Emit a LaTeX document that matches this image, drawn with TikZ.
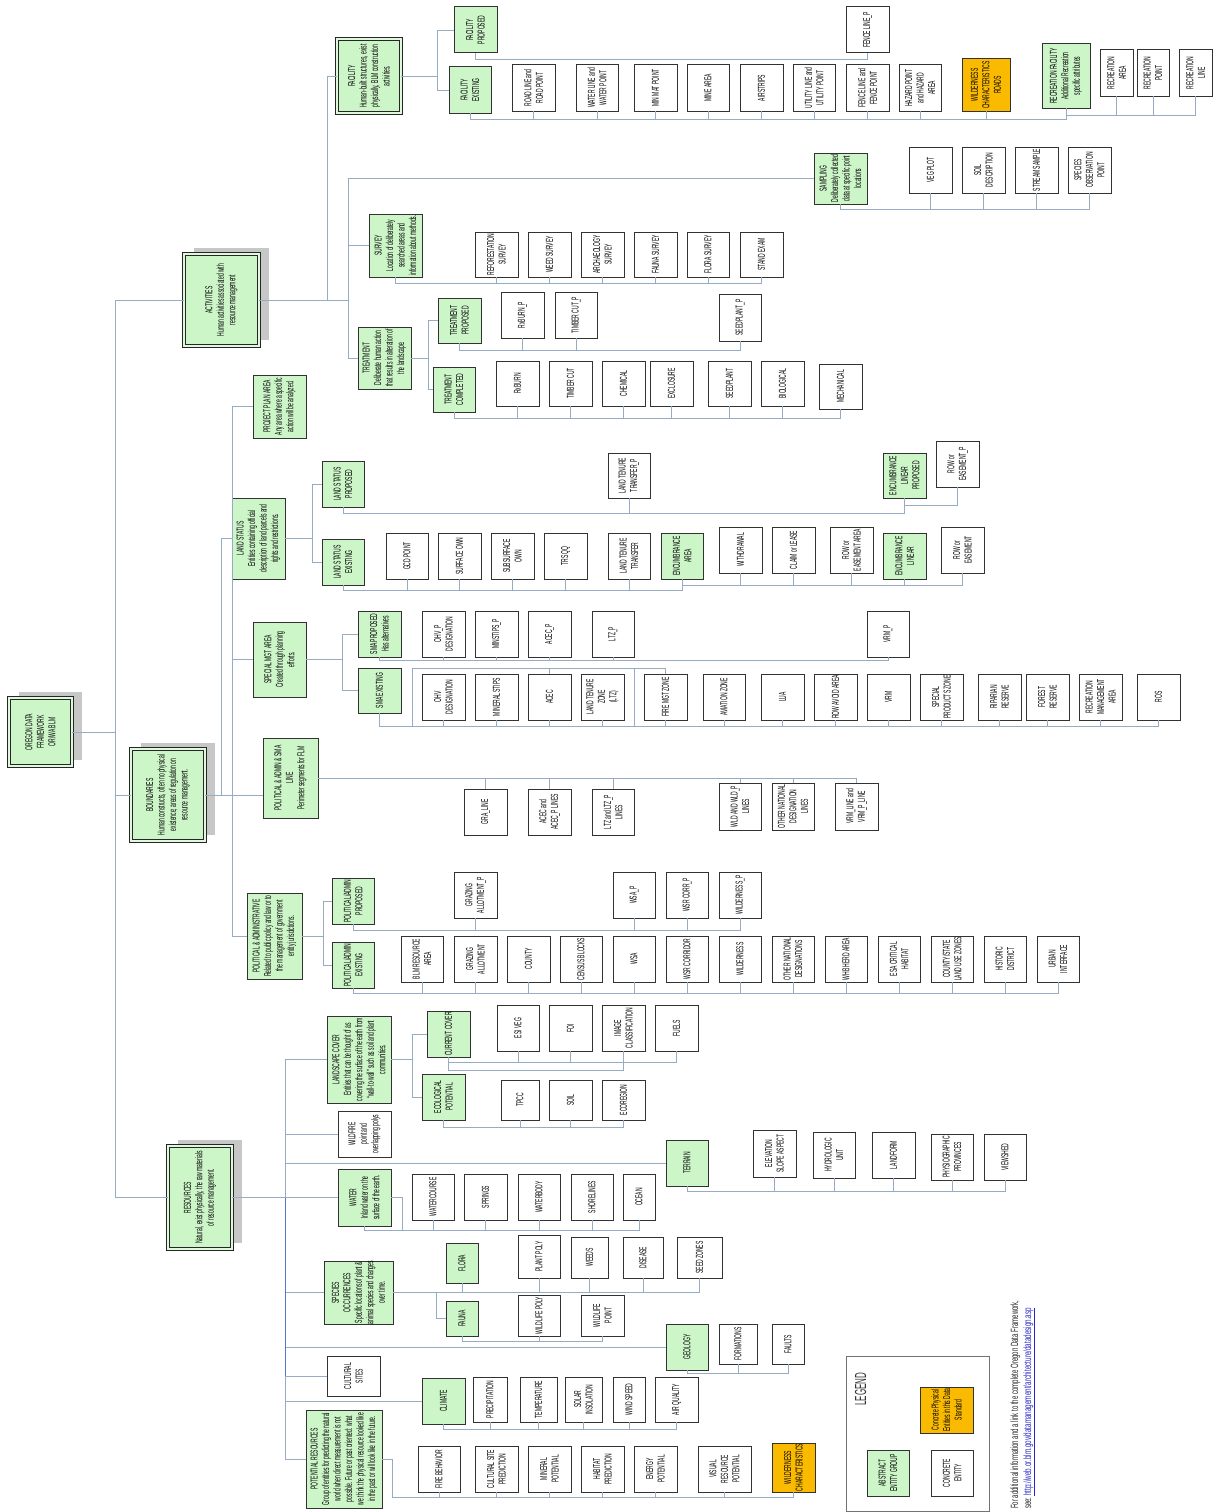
\documentclass[tikz,border=0pt]{standalone}
\usepackage{fontspec}
\setmainfont{Liberation Sans}[FakeStretch=0.5]
\usetikzlibrary{shadows}

\definecolor{grnfill}{RGB}{204,245,200}
\definecolor{orgfill}{RGB}{250,186,0}
\definecolor{wirecol}{RGB}{150,172,196}
\definecolor{edgecol}{RGB}{50,50,50}
\definecolor{linkblue}{RGB}{40,40,200}
\definecolor{spineblue}{RGB}{80,120,205}

\tikzset{
  leafbox/.style={draw=edgecol, line width=1pt, fill=white, inner sep=0pt, outer sep=0pt},
  grpbox/.style={leafbox, fill=grnfill},
  orgbox/.style={leafbox, fill=orgfill},
  headbox/.style={grpbox, draw=black!85, double=grnfill!60!white, double distance=1.3pt, line width=1.1pt},
  topbox/.style={headbox, drop shadow={shadow xshift=10pt, shadow yshift=6pt, fill=black!22, opacity=1}},
  txtlab/.style={rotate=90, align=center, inner sep=0pt, font=\fontsize{10}{11.5}\selectfont, text=black},
  wire/.style={draw=wirecol, line width=0.9pt},
}

% \ent[text options]{name}{x1}{y1}{x2}{y2}{box style}{text}
\newcommand\ent[8][]{%
  \node[#7, minimum width={(#5)-(#3)}, minimum height={(#6)-(#4)}] (#2) at ({((#3)+(#5))/2},{((#4)+(#6))/2}) {};
  \node[txtlab,#1] (#2-t) at (#2.center) {#8};}
% parent side connector through a vertical spine at x
\newcommand\side[3]{\foreach \ch in {#3}{\draw[wire] (#1.east) -- (#1.east -| #2,0) |- (\ch.west);}}
% parent bottom to children bottoms through a bus at y
\newcommand\bus[3]{\foreach \ch in {#3}{\draw[wire] (#1.south) |- (\ch.south |- 0,#2) -- (\ch.south);}}

\begin{document}
\begin{tikzpicture}[x=1pt,y=-1pt]
\fill[white] (0,0) rectangle (1215,1512);
\useasboundingbox (0,0) rectangle (1215,1512);

% ---------------- root and top groups
\ent{root}{9}{698}{72}{766}{topbox}{OREGON DATA\\FRAMEWORK\\OR/WA BLM}
\ent{act}{184}{254}{259}{346}{topbox}{ACTIVITIES\\Human activities associated with\\resource management}
\ent{bnd}{131}{749}{205}{841}{topbox}{BOUNDARIES\\Human constructs, often no physical\\existence; areas of regulation on\\resource management.}
\ent{res}{168}{1146}{232}{1249}{topbox}{RESOURCES\\Natural, exist physically, the raw materials\\of resource management.}

% ---------------- activities: facility
\ent{fac}{337}{39}{401}{113}{headbox}{FACILITY\\Human-built structures, exist\\physically, BLM construction\\activities.}
\ent{facp}{454}{7}{497}{53}{grpbox}{FACILITY\\PROPOSED}
\ent{face}{449}{67}{491}{113}{grpbox}{FACILITY\\EXISTING}
\ent{road}{512}{65}{555}{111}{leafbox}{ROAD LINE and\\ROAD POINT}
\ent{wline}{576}{65}{618}{111}{leafbox}{WATER LINE and\\WATER POINT}
\ent{minmat}{634}{65}{677}{111}{leafbox}{MIN MAT POINT}
\ent{mine}{687}{65}{729}{111}{leafbox}{MINE AREA}
\ent{air}{740}{65}{783}{111}{leafbox}{AIRSTRIPS}
\ent{util}{793}{65}{835}{111}{leafbox}{UTILITY LINE and\\UTILITY POINT}
\ent{fencep}{846}{7}{889}{53}{leafbox}{FENCE LINE\_P}
\ent{fence}{846}{65}{889}{111}{leafbox}{FENCE LINE and\\FENCE POINT}
\ent{hazard}{899}{65}{941}{111}{leafbox}{HAZARD POINT\\and HAZARD\\AREA}
\ent{wroads}{962}{59}{1010}{111}{orgbox}{WILDERNESS\\CHARACTERISTICS\\ROADS}
\ent{recf}{1042}{44}{1090}{108}{grpbox}{RECREATION FACILITY\\Additional Recreation\\specific attributes}
\ent{reca}{1100}{50}{1133}{96}{leafbox}{RECREATION\\AREA}
\ent{recp}{1137}{50}{1169}{96}{leafbox}{RECREATION\\POINT}
\ent{recl}{1179}{50}{1212}{96}{leafbox}{RECREATION\\LINE}

% ---------------- activities: sampling
\ent{samp}{814}{153}{867}{204}{grpbox}{SAMPLING\\Deliberately collected\\data at specific point\\locations}
\ent{vegp}{909}{147}{952}{193}{leafbox}{VEG PLOT}
\ent{soild}{962}{147}{1005}{193}{leafbox}{SOIL\\DESCRIPTION}
\ent{stream}{1015}{147}{1058}{193}{leafbox}{STREAM SAMPLE}
\ent{specobs}{1068}{147}{1111}{193}{leafbox}{SPECIES\\OBSERVATION\\POINT}

% ---------------- activities: survey
\ent{surv}{369}{214}{422}{277}{grpbox}{SURVEY\\Location of deliberately\\searched areas and\\information about methods.}
\ent{sa}{475}{232}{518}{277}{leafbox}{REFORESTATION\\SURVEY}
\ent{sb}{528}{232}{571}{277}{leafbox}{WEED SURVEY}
\ent{sc}{581}{232}{624}{277}{leafbox}{ARCHAEOLOGY\\SURVEY}
\ent{sd}{634}{232}{677}{277}{leafbox}{FAUNA SURVEY}
\ent{se}{687}{232}{729}{277}{leafbox}{FLORA SURVEY}
\ent{sf}{740}{232}{783}{277}{leafbox}{STAND EXAM}

% ---------------- activities: treatment
\ent{trt}{358}{327}{411}{389}{grpbox}{TREATMENT\\Deliberate human action\\that results in alteration of\\the landscape.}
\ent{trp}{438}{298}{481}{343}{grpbox}{TREATMENT\\PROPOSED}
\ent{trc}{433}{367}{475}{412}{grpbox}{TREATMENT\\COMPLETED}
\ent{rxbp}{501}{292}{544}{338}{leafbox}{RxBURN\_P}
\ent{tcp}{555}{292}{597}{338}{leafbox}{TIMBER CUT\_P}
\ent{seedp}{719}{294}{761}{341}{leafbox}{SEEDPLANT\_P}
\ent{rxb}{496}{361}{539}{406}{leafbox}{RxBURN}
\ent{tcut}{549}{361}{592}{406}{leafbox}{TIMBER CUT}
\ent{chem}{602}{361}{645}{406}{leafbox}{CHEMICAL}
\ent{excl}{650}{361}{693}{406}{leafbox}{EXCLOSURE}
\ent{seed}{708}{361}{751}{406}{leafbox}{SEEDPLANT}
\ent{bio}{761}{361}{804}{406}{leafbox}{BIOLOGICAL}
\ent{mech}{819}{364}{862}{409}{leafbox}{MECHANICAL}

% ---------------- boundaries
\ent{ppa}{253}{375}{306}{438}{grpbox}{PROJECT PLAN AREA\\Any area where a specific\\action will be analyzed.}
\ent{lst}{232}{498}{285}{579}{grpbox}{LAND STATUS\\Entities containing official\\description of land parcels and\\rights and restrictions.}
\ent{lsp}{322}{461}{364}{507}{grpbox}{LAND STATUS\\PROPOSED}
\ent{lse}{322}{539}{364}{585}{grpbox}{LAND STATUS\\EXISTING}
\ent{gcd}{386}{533}{428}{579}{leafbox}{GCD POINT}
\ent{sown}{438}{533}{481}{579}{leafbox}{SURFACE OWN}
\ent{ssown}{491}{533}{534}{579}{leafbox}{SUBSURFACE\\OWN}
\ent{trs}{544}{533}{587}{579}{leafbox}{TRS QQ}
\ent{ltt}{608}{533}{650}{579}{leafbox}{LAND TENURE\\TRANSFER}
\ent{enca}{661}{533}{703}{579}{grpbox}{ENCUMBRANCE\\AREA}
\ent{wdr}{719}{527}{762}{573}{leafbox}{WITHDRAWAL}
\ent{claim}{772}{527}{815}{573}{leafbox}{CLAIM or LEASE}
\ent{rowa}{830}{527}{873}{573}{leafbox}{ROW or\\EASEMENT AREA}
\ent{encl}{883}{533}{926}{579}{grpbox}{ENCUMBRANCE\\LINEAR}
\ent{rowe}{941}{527}{984}{573}{leafbox}{ROW or\\EASEMENT}
\ent{lttp}{608}{453}{650}{498}{leafbox}{LAND TENURE\\TRANSFER\_P}
\ent{enclp}{883}{453}{926}{498}{grpbox}{ENCUMBRANCE\\LINEAR\\PROPOSED}
\ent{rowp}{936}{441}{979}{487}{leafbox}{ROW or\\EASEMENT\_P}

\ent{smg}{253}{622}{306}{697}{grpbox}{SPECIAL MGT AREA\\Created through planning\\efforts.}
\ent{smap}{358}{611}{401}{657}{grpbox}{SMA PROPOSED\\Has alternatives}
\ent{smae}{358}{668}{401}{713}{grpbox}{SMA EXISTING}
\ent{ohvp}{422}{611}{465}{657}{leafbox}{OHV\_P\\DESIGNATION}
\ent{minsp}{475}{611}{518}{657}{leafbox}{MINSTIPS\_P}
\ent{acecp}{528}{611}{571}{657}{leafbox}{ACEC\_P}
\ent{ltzp}{592}{611}{634}{657}{leafbox}{LTZ\_P}
\ent{vrmp}{867}{611}{909}{657}{leafbox}{VRM\_P}
\ent{ohv}{422}{674}{465}{720}{leafbox}{OHV\\DESIGNATION}
\ent{mins}{475}{674}{518}{720}{leafbox}{MINERAL STIPS}
\ent{acec}{528}{674}{571}{720}{leafbox}{ACEC}
\ent{ltz}{581}{674}{624}{720}{leafbox}{LAND TENURE\\ZONE\\(LTZ)}
\ent{firez}{644}{674}{687}{720}{leafbox}{FIRE MGT ZONE}
\ent{avi}{703}{674}{745}{720}{leafbox}{AVIATION ZONE}
\ent{lua}{761}{674}{804}{720}{leafbox}{LUA}
\ent{rowav}{814}{674}{857}{720}{leafbox}{ROW AVOID AREA}
\ent{vrm}{867}{674}{910}{720}{leafbox}{VRM}
\ent{spz}{920}{674}{963}{720}{leafbox}{SPECIAL\\PRODUCTS ZONE}
\ent{rip}{978}{674}{1021}{720}{leafbox}{RIPARIAN\\RESERVE}
\ent{forest}{1026}{674}{1069}{720}{leafbox}{FOREST\\RESERVE}
\ent{recm}{1079}{674}{1122}{720}{leafbox}{RECREATION\\MANAGEMENT\\AREA}
\ent{ros}{1137}{674}{1180}{720}{leafbox}{ROS}

\ent{pal}{263}{738}{318}{818}{grpbox}{POLITICAL \& ADMIN \& SMA\\LINE\\Perimeter segments for FLM}
\ent{gra}{464}{789}{507}{835}{leafbox}{GRA\_LINE}
\ent{acecl}{528}{789}{571}{835}{leafbox}{ACEC and\\ACEC\_P LINES}
\ent{ltzl}{592}{789}{634}{835}{leafbox}{LTZ and LTZ\_P\\LINES}
\ent{wldl}{719}{783}{761}{830}{leafbox}{WLD AND WLD\_P\\LINES}
\ent{othl}{772}{783}{814}{830}{leafbox}{OTHER NATIONAL\\DESIGNATION\\LINES}
\ent{vrml}{835}{783}{878}{830}{leafbox}{VRM\_LINE and\\VRM\_P\_LINE}

\ent{pad}{247}{893}{302}{979}{grpbox}{POLITICAL \& ADMINISTRATIVE\\Related to public policy and law or to\\the management of government\\entity jurisdictions.}
\ent{pap}{332}{878}{374}{924}{grpbox}{POLITICAL/ADMIN\\PROPOSED}
\ent{pae}{332}{942}{374}{988}{grpbox}{POLITICAL/ADMIN\\EXISTING}
\ent{blm}{401}{936}{443}{982}{leafbox}{BLM RESOURCE\\AREA}
\ent{graz}{454}{936}{497}{982}{leafbox}{GRAZING\\ALLOTMENT}
\ent{county}{507}{936}{550}{982}{leafbox}{COUNTY}
\ent{census}{560}{936}{602}{982}{leafbox}{CENSUS BLOCKS}
\ent{wsa}{613}{936}{655}{982}{leafbox}{WSA}
\ent{wsr}{666}{936}{708}{982}{leafbox}{WSR CORRIDOR}
\ent{wild}{719}{936}{761}{982}{leafbox}{WILDERNESS}
\ent{othd}{772}{936}{814}{982}{leafbox}{OTHER NATIONAL\\DESIGNATIONS}
\ent{whb}{825}{936}{867}{982}{leafbox}{WHB HERD AREA}
\ent{esa}{878}{936}{920}{982}{leafbox}{ESA CRITICAL\\HABITAT}
\ent{csz}{931}{936}{973}{982}{leafbox}{COUNTY/STATE\\LAND USE ZONES}
\ent{hist}{984}{936}{1026}{982}{leafbox}{HISTORIC\\DISTRICT}
\ent{urban}{1037}{936}{1079}{982}{leafbox}{URBAN\\INTERFACE}
\ent{grazp}{454}{872}{497}{918}{leafbox}{GRAZING\\ALLOTMENT\_P}
\ent{wsap}{613}{872}{655}{918}{leafbox}{WSA\_P}
\ent{wsrp}{666}{872}{708}{918}{leafbox}{WSR CORR\_P}
\ent{wildp}{719}{872}{761}{918}{leafbox}{WILDERNESS\_P}

% ---------------- resources
\ent{lc}{327}{1016}{391}{1103}{grpbox}{LANDSCAPE COVER\\Entities that can be thought of as\\covering the surface of the earth from\\“wall-to-wall” such as soil and plant\\communities.}
\ent{cc}{427}{1011}{470}{1057}{grpbox}{CURRENT COVER}
\ent{ep}{422}{1074}{465}{1120}{grpbox}{ECOLOGICAL\\POTENTIAL}
\ent{esi}{497}{1005}{539}{1051}{leafbox}{ESI VEG}
\ent{foi}{549}{1005}{592}{1051}{leafbox}{FOI}
\ent{imgc}{602}{1005}{645}{1051}{leafbox}{IMAGE\\CLASSIFICATION}
\ent{fuels}{655}{1005}{698}{1051}{leafbox}{FUELS}
\ent{tpcc}{501}{1080}{539}{1120}{leafbox}{TPCC}
\ent{soil}{549}{1080}{592}{1120}{leafbox}{SOIL}
\ent{ecor}{602}{1080}{645}{1120}{leafbox}{ECOREGION}
\ent{wfire}{338}{1111}{391}{1157}{leafbox}{WILDFIRE\\point and\\overlapping polys}
\ent{terr}{666}{1140}{708}{1186}{grpbox}{TERRAIN}
\ent{elev}{753}{1130}{796}{1177}{leafbox}{ELEVATION\\SLOPE ASPECT}
\ent{hydro}{813}{1132}{855}{1178}{leafbox}{HYDROLOGIC\\UNIT}
\ent{landf}{872}{1132}{915}{1178}{leafbox}{LANDFORM}
\ent{phys}{931}{1134}{973}{1180}{leafbox}{PHYSIOGRAPHIC\\PROVINCES}
\ent{view}{984}{1134}{1026}{1180}{leafbox}{VIEWSHED}
\ent{water}{338}{1169}{391}{1226}{grpbox}{WATER\\Inland water on the\\surface of the earth.}
\ent{wc}{412}{1174}{454}{1220}{leafbox}{WATERCOURSE}
\ent{spr}{464}{1174}{507}{1220}{leafbox}{SPRINGS}
\ent{wb}{518}{1174}{560}{1220}{leafbox}{WATERBODY}
\ent{shore}{571}{1174}{613}{1220}{leafbox}{SHORELINES}
\ent{ocean}{623}{1174}{655}{1220}{leafbox}{OCEAN}
\ent{spo}{324}{1261}{393}{1324}{grpbox}{SPECIES\\OCCURRENCES\\Specific locations of plant \&\\animal species and changes\\over time.}
\ent{flora}{446}{1243}{478}{1283}{grpbox}{FLORA}
\ent{fauna}{446}{1301}{478}{1336}{grpbox}{FAUNA}
\ent{ppoly}{518}{1235}{560}{1278}{leafbox}{PLANT POLY}
\ent{weeds}{571}{1237}{608}{1278}{leafbox}{WEEDS}
\ent{dis}{623}{1237}{663}{1278}{leafbox}{DISEASE}
\ent{seedz}{677}{1237}{722}{1278}{leafbox}{SEED ZONES}
\ent{wpoly}{518}{1295}{560}{1336}{leafbox}{WILDLIFE POLY}
\ent{wpt}{581}{1295}{624}{1336}{leafbox}{WILDLIFE\\POINT}
\ent{geo}{666}{1324}{708}{1370}{grpbox}{GEOLOGY}
\ent{form}{719}{1324}{757}{1364}{leafbox}{FORMATIONS}
\ent{faults}{772}{1324}{804}{1364}{leafbox}{FAULTS}
\ent{cult}{327}{1356}{380}{1396}{leafbox}{CULTURAL\\SITES}
\ent{clim}{422}{1378}{465}{1424}{grpbox}{CLIMATE}
\ent{prec}{473}{1377}{507}{1422}{leafbox}{PRECIPITATION}
\ent{temp}{520}{1377}{557}{1422}{leafbox}{TEMPERATURE}
\ent{solar}{565}{1377}{602}{1422}{leafbox}{SOLAR\\INSOLATION}
\ent{wind}{613}{1377}{645}{1422}{leafbox}{WIND SPEED}
\ent{airq}{655}{1377}{698}{1422}{leafbox}{AIR QUALITY}
\ent{pot}{306}{1410}{382}{1508}{grpbox}{POTENTIAL RESOURCES\\Group of entities for predicting the natural\\world when direct measurement is not\\possible. Future or past oriented: what\\we think the physical resource looked like\\in the past or will look like in the future.}
\ent{fireb}{418}{1446}{460}{1492}{leafbox}{FIRE BEHAVIOR}
\ent{csp}{475}{1446}{518}{1492}{leafbox}{CULTURAL SITE\\PREDICTION}
\ent{minpot}{528}{1446}{571}{1492}{leafbox}{MINERAL\\POTENTIAL}
\ent{habp}{581}{1446}{624}{1492}{leafbox}{HABITAT\\PREDICTION}
\ent{enp}{634}{1446}{677}{1492}{leafbox}{ENERGY\\POTENTIAL}
\ent{vrp}{698}{1446}{751}{1492}{leafbox}{VISUAL\\RESOURCE\\POTENTIAL}
\ent{wchar}{772}{1443}{815}{1492}{orgbox}{WILDERNESS\\CHARACTERISTICS}

% ---------------- legend and footer
\node[draw=black!55, line width=0.8pt, fill=white, minimum width=143pt, minimum height=155pt, inner sep=0pt] (leg) at (917.5,1433.5) {};
\node[rotate=90, inner sep=0pt, font=\fontsize{16}{18}\selectfont, text=black!80] (leg-title) at (860.5,1389) {LEGEND};
\ent{legA}{867}{1450}{909}{1496}{grpbox}{ABSTRACT\\ENTITY GROUP}
\ent{legC}{931}{1450}{973}{1496}{leafbox}{CONCRETE\\ENTITY}
\ent{legO}{920}{1387}{973}{1433}{orgbox}{Concrete Physical\\Entities in this Data\\Standard}
\node[rotate=90, anchor=base west, inner sep=0pt, font=\fontsize{10.5}{12}\selectfont, text=black!85] (foot1) at (1018,1509)
  {\scalebox{1.15}[1]{For additional information and a link to the complete Oregon Data Framework,}};
\node[rotate=90, anchor=base west, inner sep=0pt, font=\fontsize{10.5}{12}\selectfont, text=black!85] (foot2) at (1031,1509)
  {\scalebox{1.15}[1]{see:} \textcolor{linkblue}{\scalebox{1.2}[1]{\underline{http://web.or.blm.gov/datamanagement/architecture/datadesign.asp}}}};

% ================= connectors
% main spine
\side{root}{115}{act,bnd,res}

% activities
\side{act}{327}{fac}
\side{act}{348}{samp,surv,trt}
\side{fac}{437}{facp,face}
\bus{face}{119}{road,wline,minmat,mine,air,util,fence,hazard,wroads,recf}
\bus{recf}{115}{reca,recp,recl}
\bus{facp}{59}{fencep}
\bus{samp}{209}{vegp,soild,stream,specobs}
\bus{surv}{283}{sa,sb,sc,sd,se,sf}
\side{trt}{428}{trp,trc}
\bus{trp}{350}{rxbp,tcp,seedp}
\bus{trc}{418}{rxb,tcut,chem,excl,seed,bio,mech}

% boundaries
\side{bnd}{221}{lst}
\side{bnd}{232}{ppa,smg,pad}
\draw[wire] (bnd.east) -- (bnd.east -| pal.west);
\side{lst}{312}{lsp,lse}
\bus{lsp}{513}{lttp,enclp}
\bus{enclp}{505}{rowp}
\bus{lse}{590}{gcd,sown,ssown,trs,ltt,enca}
\bus{enca}{585}{wdr,claim,rowa,encl}
\bus{encl}{585}{rowe}
\side{smg}{342}{smap,smae}
\bus{smap}{660}{ohvp,minsp,acecp,ltzp,vrmp}
\bus{smae}{726}{ohv,mins,acec,ltz,firez,avi,lua,rowav,vrm,spz,rip,forest,recm,ros}
\coordinate (smxa) at (412,726);
\coordinate (smxb) at (412,668);
\coordinate (smxc) at (634,668);
\draw[wire] (smxa) -- (smxb) -- (firez.north |- smxb) -- (firez.north);
\draw[wire] (acec.north) -- (acec.north |- smxb);
\draw[wire] (smxc) -- (smxc |- smxa);
\foreach \ch in {gra,acecl,ltzl,wldl,othl,vrml}{\draw[wire] (pal.east) -| (\ch.north);}
\side{pad}{323}{pap,pae}
\bus{pap}{930}{grazp,wsap,wsrp,wildp}
\bus{pae}{993}{blm,graz,county,census,wsa,wsr,wild,othd,whb,esa,csz,hist,urban}

% resources
\side{res}{285}{lc,wfire,terr,water,spo,geo,cult,clim,pot}
\draw[spineblue, line width=0.9pt] (res.east -| 285,0) -- (cult.west -| 285,0);
\side{lc}{412}{cc,ep}
\bus{cc}{1062}{esi,foi,imgc,fuels}
\draw[wire] (cc.south) |- (imgc.south |- 0,1070) -- (imgc.south |- 0,1062);
\bus{ep}{1127}{tpcc,soil,ecor}
\bus{terr}{1191}{elev,hydro,landf,phys,view}
\bus{water}{1230}{wc,spr,wb,shore,ocean}
\draw[wire] (water.east) -- (water.east -| 402,0) |- (wc.south |- 0,1230);
\draw[wire] (spo.east) -- (flora.south |- spo.east);
\side{spo}{436}{fauna}
\bus{flora}{1292}{ppoly,weeds,dis,seedz}
\bus{fauna}{1341}{wpoly,wpt}
\bus{geo}{1373}{form,faults}
\bus{clim}{1429}{prec,temp,solar,wind,airq}
\foreach \ch in {fireb,csp,minpot,habp,enp,vrp,wchar}{\draw[wire] (pot.east) -- (pot.east -| 392,0) |- (\ch.south |- 0,1497) -- (\ch.south);}
\end{tikzpicture}
\end{document}
